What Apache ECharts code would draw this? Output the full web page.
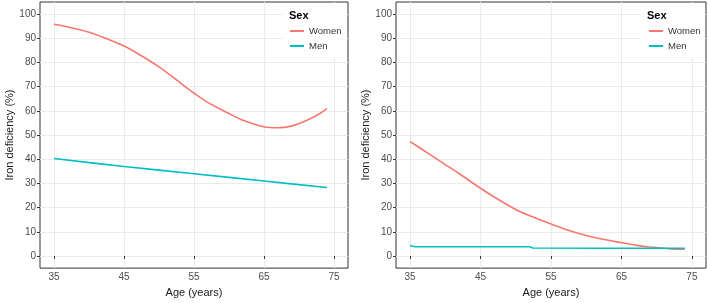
<!DOCTYPE html>
<html>
<head>
<meta charset="utf-8">
<script src="https://cdn.jsdelivr.net/npm/echarts@6/dist/echarts.min.js"></script>
<style>
  html, body { margin: 0; padding: 0; background: #fff; }
  #chart { width: 708px; height: 303px; }
</style>
</head>
<body>
<div id="chart"></div>
<script>
// tick labels
const xTicks = [35, 45, 55, 65, 75];
const yTicks = [0, 10, 20, 30, 40, 50, 60, 70, 80, 90, 100];
const seriesNames = ['Women', 'Men'];

// left panel
const leftWomenAge = [35, 37, 40, 42, 45, 47, 50, 52, 55, 57, 60, 62, 65, 67, 69, 71, 73, 74];
const leftWomen = [95.8, 94.7, 92.5, 90.4, 86.8, 83.6, 78.2, 73.9, 67.3, 63.4, 58.9, 56.1, 53.4, 53, 53.8, 55.9, 58.9, 60.9];
const leftMenAge = [35, 45, 55, 65, 74];
const leftMen = [40.3, 37, 34, 31, 28.3];

// right panel
const rightWomenAge = [35, 37, 40, 42, 45, 47, 50, 52, 55, 57, 60, 62, 65, 67, 69, 71, 72, 74];
const rightWomen = [47.3, 43.5, 37.8, 34, 28, 24.3, 19.2, 16.6, 13.2, 11.1, 8.5, 7.1, 5.5, 4.5, 3.7, 3.2, 2.9, 2.8];
const rightMenAge = [35, 35.8, 52, 52.5, 74];
const rightMen = [4.3, 3.8, 3.8, 3.3, 3.2];

const colors = ['#F8766D', '#00BFC4'];
const font = 'Liberation Sans, Arial, sans-serif';

function pairs(xs, ys) {
  return xs.map((x, i) => [x, ys[i]]);
}

function xAxis(gi) {
  return {
    type: 'value', gridIndex: gi, min: 33, max: 77,
    name: 'Age (years)', nameLocation: 'middle', nameGap: 17,
    nameTextStyle: { fontSize: 11, color: '#1a1a1a', fontFamily: font },
    axisLine: { show: false },
    axisTick: { show: true, length: 3, customValues: xTicks, lineStyle: { color: '#333' } },
    axisLabel: { customValues: xTicks, margin: 4, fontSize: 10, color: '#4d4d4d', fontFamily: font },
    splitLine: { show: true, lineStyle: { color: '#ebebeb', width: 1 } }
  };
}

function yAxis(gi) {
  return {
    type: 'value', gridIndex: gi, min: -5, max: 105,
    name: 'Iron deficiency (%)', nameLocation: 'middle', nameGap: 24,
    nameTextStyle: { fontSize: 11, color: '#1a1a1a', fontFamily: font },
    axisLine: { show: false },
    axisTick: { show: true, length: 3, customValues: yTicks, lineStyle: { color: '#333' } },
    axisLabel: { customValues: yTicks, margin: 4, fontSize: 10, color: '#4d4d4d', fontFamily: font },
    splitLine: { show: true, lineStyle: { color: '#ebebeb', width: 1 } }
  };
}

function line(name, gi, data, color) {
  return {
    name: name, type: 'line', xAxisIndex: gi, yAxisIndex: gi,
    data: data, smooth: 0.3, showSymbol: false, symbol: 'none',
    lineStyle: { color: color, width: 1.6 }, itemStyle: { color: color },
    z: 3
  };
}

function legend(left) {
  return {
    data: seriesNames, orient: 'vertical', left: left, top: 26, padding: 0,
    icon: 'rect', itemWidth: 14, itemHeight: 2, itemGap: 5,
    textStyle: { fontSize: 9.5, color: '#333', fontFamily: font }
  };
}

function legendBox(x, title) {
  return [
    { type: 'rect', left: x, top: 3, z: 1, shape: { width: 347 - 283, height: 55 }, style: { fill: '#fff' } },
    { type: 'text', left: title, top: 10, z: 5, style: { text: 'Sex', font: 'bold 11px ' + font, fill: '#000' } }
  ];
}

const chart = echarts.init(document.getElementById('chart'), null, { renderer: 'canvas' });
chart.setOption({
  animation: false,
  color: colors,
  grid: [
    { left: 40, top: 2, width: 308, height: 270, show: true, borderColor: '#333', borderWidth: 1 },
    { left: 396, top: 2, width: 310, height: 270, show: true, borderColor: '#333', borderWidth: 1 }
  ],
  xAxis: [xAxis(0), xAxis(1)],
  yAxis: [yAxis(0), yAxis(1)],
  legend: [legend(290), legend(649)],
  graphic: legendBox(283, 289).concat(legendBox(641, 647)),
  series: [
    line('Women', 0, pairs(leftWomenAge, leftWomen), colors[0]),
    line('Men', 0, pairs(leftMenAge, leftMen), colors[1]),
    line('Women', 1, pairs(rightWomenAge, rightWomen), colors[0]),
    line('Men', 1, pairs(rightMenAge, rightMen), colors[1])
  ]
});
</script>
</body>
</html>
